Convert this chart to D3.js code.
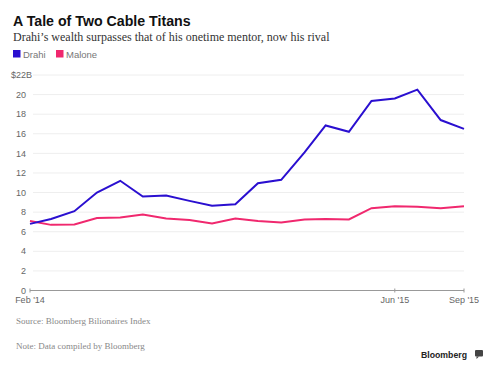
<!DOCTYPE html>
<html><head><meta charset="utf-8">
<script src="https://cdn.jsdelivr.net/npm/d3@7"></script>
<style>
body{margin:0;background:#fff;}
svg{display:block;}
</style></head>
<body>
<svg id="chart" width="488" height="370"></svg>
<script>
const months = ["2014-02","2014-03","2014-04","2014-05","2014-06","2014-07","2014-08","2014-09","2014-10","2014-11","2014-12","2015-01","2015-02","2015-03","2015-04","2015-05","2015-06","2015-07","2015-08","2015-09"];
const drahi = [6.8,7.3,8.1,10.0,11.2,9.6,9.7,9.15,8.65,8.8,10.95,11.3,14.1,16.85,16.2,19.35,19.6,20.5,17.4,16.5];
const malone = [7.1,6.7,6.75,7.4,7.45,7.75,7.35,7.2,6.85,7.35,7.1,6.95,7.25,7.3,7.25,8.4,8.6,8.55,8.4,8.6];
const yTicks = [0,2,4,6,8,10,12,14,16,18,20,22];
const xTickDates = ["2014-02","2015-06","2015-09"];
const xTickLabels = ["Feb '14","Jun '15","Sep '15"];

const parse = d3.timeParse("%Y-%m");
const dates = months.map(parse);
const svg = d3.select("#chart");
const sans = "'Liberation Sans', Arial, sans-serif";
const serif = "'Liberation Serif', 'Times New Roman', serif";

const x = d3.scaleTime().domain([dates[0], dates[dates.length-1]]).range([30, 464]);
const y = d3.scaleLinear().domain([0,22]).range([290.5, 75]);

// Title
svg.append("text").attr("x",13).attr("y",26).attr("font-family",sans).attr("font-weight","bold")
  .attr("font-size",14.2).attr("fill","#111").text("A Tale of Two Cable Titans");
svg.append("text").attr("x",13).attr("y",40.5).attr("font-family",serif)
  .attr("font-size",12).attr("fill","#333").text("Drahi’s wealth surpasses that of his onetime mentor, now his rival");

// Legend
const legend = [{name:"Drahi",color:"#2a0fd0",x:13},{name:"Malone",color:"#f0286e",x:56}];
legend.forEach(l=>{
  svg.append("rect").attr("x",l.x).attr("y",50).attr("width",7.5).attr("height",7.5).attr("fill",l.color);
  svg.append("text").attr("x",l.x+10).attr("y",57.5).attr("font-family",sans).attr("font-size",9.5)
    .attr("fill","#777").text(l.name);
});

// Gridlines & y labels
yTicks.forEach(t=>{
  if(t>0){
    svg.append("line").attr("x1",33).attr("x2",464).attr("y1",y(t)).attr("y2",y(t))
      .attr("stroke","#eeeeee").attr("stroke-width",1);
  }
  const lbl = svg.append("text").attr("y",y(t)).attr("dy","0.35em").attr("font-family",sans)
    .attr("font-size",9).attr("fill","#666");
  if(t===22){
    lbl.attr("x",26).attr("text-anchor","end").text("$22");
    svg.append("text").attr("x",26).attr("y",y(t)).attr("dy","0.35em").attr("font-family",sans)
      .attr("font-size",9).attr("fill","#666").text("B");
  } else {
    lbl.attr("x",26).attr("text-anchor","end").text(t);
  }
});

// X axis
svg.append("line").attr("x1",30).attr("x2",464).attr("y1",y(0)).attr("y2",y(0))
  .attr("stroke","#999").attr("stroke-width",1);
xTickDates.forEach((d,i)=>{
  const xp = x(parse(d));
  svg.append("line").attr("x1",xp).attr("x2",xp).attr("y1",y(0)-2).attr("y2",y(0)+2)
    .attr("stroke","#999").attr("stroke-width",1);
  svg.append("text").attr("x",xp).attr("y",302.5).attr("text-anchor","middle").attr("font-family",sans)
    .attr("font-size",9).attr("fill","#666").text(xTickLabels[i]);
});

// Lines
const line = d3.line().x((d,i)=>x(dates[i])).y(d=>y(d));
svg.append("path").datum(malone).attr("d",line).attr("fill","none").attr("stroke","#f0286e")
  .attr("stroke-width",2).attr("stroke-linejoin","miter");
svg.append("path").datum(drahi).attr("d",line).attr("fill","none").attr("stroke","#2a0fd0")
  .attr("stroke-width",2).attr("stroke-linejoin","miter");

// Footer
svg.append("text").attr("x",16).attr("y",324).attr("font-family",serif).attr("font-size",9)
  .attr("fill","#888").text("Source: Bloomberg Bilionaires Index");
svg.append("text").attr("x",16).attr("y",349).attr("font-family",serif).attr("font-size",9)
  .attr("fill","#888").text("Note: Data compiled by Bloomberg");
svg.append("text").attr("x",421).attr("y",358).attr("font-family",sans).attr("font-weight","bold")
  .attr("font-size",9.5).attr("textLength",46).attr("lengthAdjust","spacingAndGlyphs")
  .attr("fill","#222").text("Bloomberg");
const lg = svg.append("g").attr("transform","translate(475,350)");
lg.append("rect").attr("width",8).attr("height",6.5).attr("rx",1).attr("fill","#444");
lg.append("path").attr("d","M1.5,6.5 L1.5,9 L4,6.5 Z").attr("fill","#444");
</script>
</body></html>
